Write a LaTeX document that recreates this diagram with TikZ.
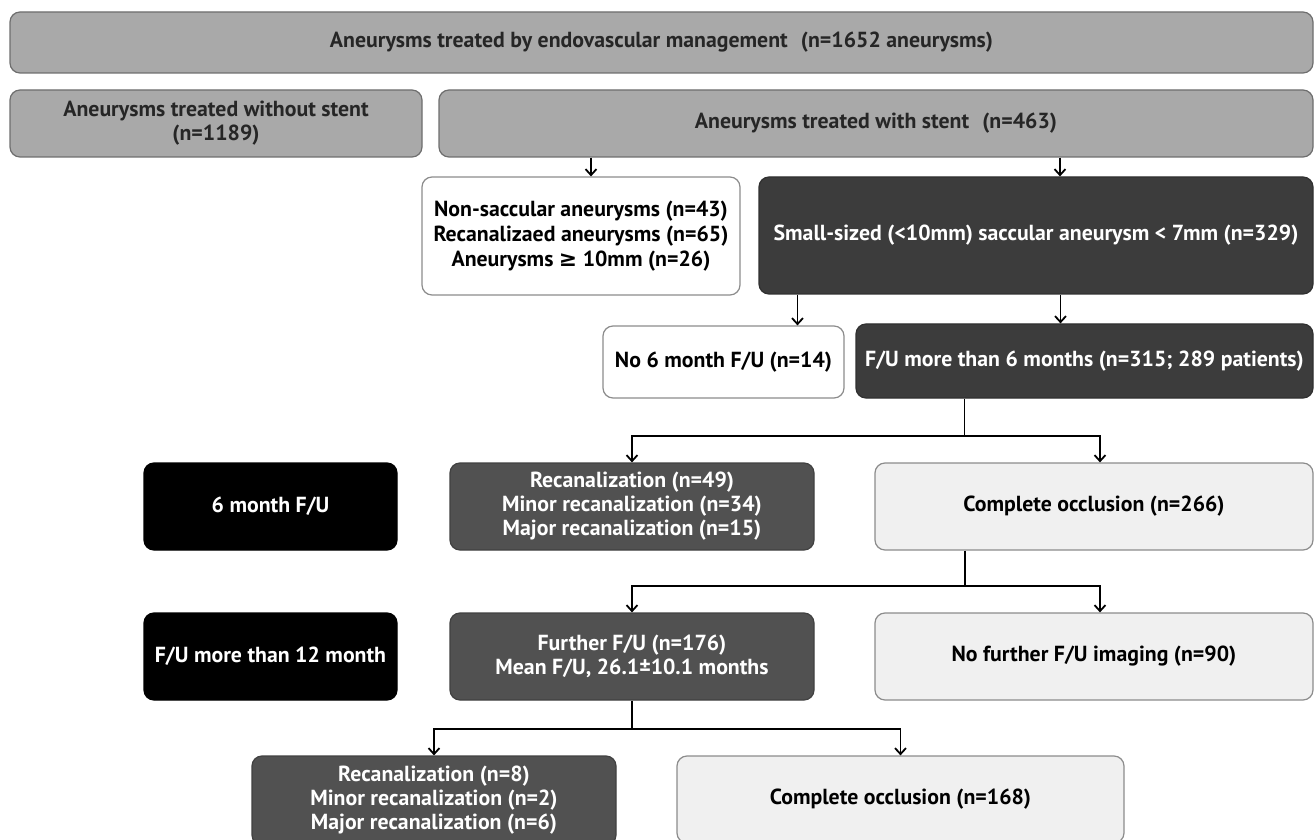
\documentclass[tikz,border=0pt]{standalone}
\usepackage{fontspec}
\setmainfont{PT Sans}
\newfontfamily\symfont{DejaVu Sans}
\usepackage{tikz}
\usetikzlibrary{arrows.meta}

\definecolor{boxgrey}{HTML}{A9A9A9}
\definecolor{boxgreyline}{HTML}{6E6E6E}
\definecolor{boxgreytext}{HTML}{262626}
\definecolor{boxdark}{HTML}{3C3C3C}
\definecolor{boxmid}{HTML}{515151}
\definecolor{boxlight}{HTML}{F0F0F0}
\definecolor{boxline}{HTML}{8C8C8C}

\begin{document}
\begin{tikzpicture}[x=0.5pt, y=-0.5pt,
		box/.style = {draw, rounded corners=5pt, align=center, inner sep=0pt, line width=0.6pt,
			font=\bfseries\fontsize{10.9}{12}\selectfont},
		greybox/.style = {box, fill=boxgrey, draw=boxgreyline, text=boxgreytext},
		whitebox/.style = {box, fill=white, draw=boxline, text=black},
		darkbox/.style = {box, fill=boxdark, draw=boxdark!80!black, text=white},
		midbox/.style = {box, fill=boxmid, draw=boxmid!80!black, text=white},
		lightbox/.style = {box, fill=boxlight, draw=boxline, text=black},
		blackbox/.style = {box, fill=black, draw=black, text=white},
		link/.style = {line width=0.9pt},
		arr/.style = {link, -{Straight Barb[length=3pt, width=5.5pt]}}]
					\def\rowH{43.5pt};
					\def\midW{182pt};
					\def\rightW{219pt};

					\useasboundingbox (0,0) rectangle (1314,840);

					% top rows
					\begin{scope}
						\node[greybox, minimum width=651.5pt, minimum height=30.5pt] (all) at (661.5,42.5)
							{Aneurysms treated by endovascular management\hspace{0.35em} (n=1652 aneurysms)};
						\node[greybox, minimum width=206pt, minimum height=33.5pt] (nostent) at (216,123.5)
							{Aneurysms treated without stent\\(n=1189)};
						\node[greybox, minimum width=437pt, minimum height=33.5pt] (stent) at (876,123.5)
							{Aneurysms treated with stent\hspace{0.35em} (n=463)};
					\end{scope}

					% selection
					\begin{scope}
						\node[whitebox, minimum width=159pt, minimum height=59pt,
							font=\bfseries\fontsize{10.9}{12.4}\selectfont] (excl) at (581,236)
							{Non-saccular aneurysms (n=43)\\Recanalizaed aneurysms (n=65)\\Aneurysms {\symfont\bfseries ≥} 10mm (n=26)};
						\node[darkbox, minimum width=277pt, minimum height=58.5pt] (small) at (1036,235.5)
							{Small-sized (<10mm) saccular aneurysm < 7mm (n=329)};
						\node[whitebox, minimum width=120.5pt, minimum height=36pt] (nofu) at (723.5,362)
							{No 6 month F/U (n=14)};
						\node[darkbox, minimum width=228.5pt, minimum height=37pt] (fu6) at (1084.5,361)
							{F/U more than 6 months (n=315; 289 patients)};
					\end{scope}

					% follow-up rows
					\begin{scope}
						\node[blackbox, minimum width=126.5pt, minimum height=\rowH] (lab6) at (270.5,506.5) {6 month F/U};
						\node[midbox, minimum width=\midW, minimum height=\rowH] (recan49) at (632,506.5)
							{Recanalization (n=49)\\Minor recanalization (n=34)\\Major recanalization (n=15)};
						\node[lightbox, minimum width=\rightW, minimum height=\rowH] (occl266) at (1094,506.5)
							{Complete occlusion (n=266)};

						\node[blackbox, minimum width=126.5pt, minimum height=\rowH] (lab12) at (270.5,656.5) {F/U more than 12 month};
						\node[midbox, minimum width=\midW, minimum height=\rowH] (further) at (632,656.5)
							{Further F/U (n=176)\\Mean F/U, 26.1±10.1 months};
						\node[lightbox, minimum width=\rightW, minimum height=\rowH] (nofurther) at (1094,656.5)
							{No further F/U imaging (n=90)};

						\node[midbox, minimum width=\midW, minimum height=44.5pt] (recan8) at (434,800.5)
							{Recanalization (n=8)\\Minor recanalization (n=2)\\Major recanalization (n=6)};
						\node[lightbox, minimum width=223.5pt, minimum height=43.5pt] (occl168) at (900.5,799.5)
							{Complete occlusion (n=168)};
					\end{scope}

					% connectors
					\begin{scope}
						\draw[arr] ([xshift=5pt]excl.north |- stent.south) -- ([xshift=5pt]excl.north);
						\draw[arr] ([xshift=12pt]small.north |- stent.south) -- ([xshift=12pt]small.north);
						\draw[arr] ([xshift=37pt]nofu.north |- small.south) -- ([xshift=37pt]nofu.north);
						\draw[arr] ([xshift=-12pt]fu6.north |- small.south) -- ([xshift=-12pt]fu6.north);

						\draw[link] ([xshift=-60pt]fu6.south) -- ++(0,37) coordinate (split6);
						\draw[arr] (split6) -| (recan49.north);
						\draw[arr] (split6) -| ([xshift=3pt]occl266.north);

						\draw[link] ([xshift=-64.5pt]occl266.south) -- ++(0,35) coordinate (split12);
						\draw[arr] (split12) -| (further.north);
						\draw[arr] (split12) -| ([xshift=3pt]nofurther.north);

						\draw[link] (further.south) -- ++(0,28) coordinate (splitlast);
						\draw[arr] (splitlast) -| (recan8.north);
						\draw[arr] (splitlast) -| (occl168.north);
					\end{scope}
				\end{tikzpicture}
\end{document}
